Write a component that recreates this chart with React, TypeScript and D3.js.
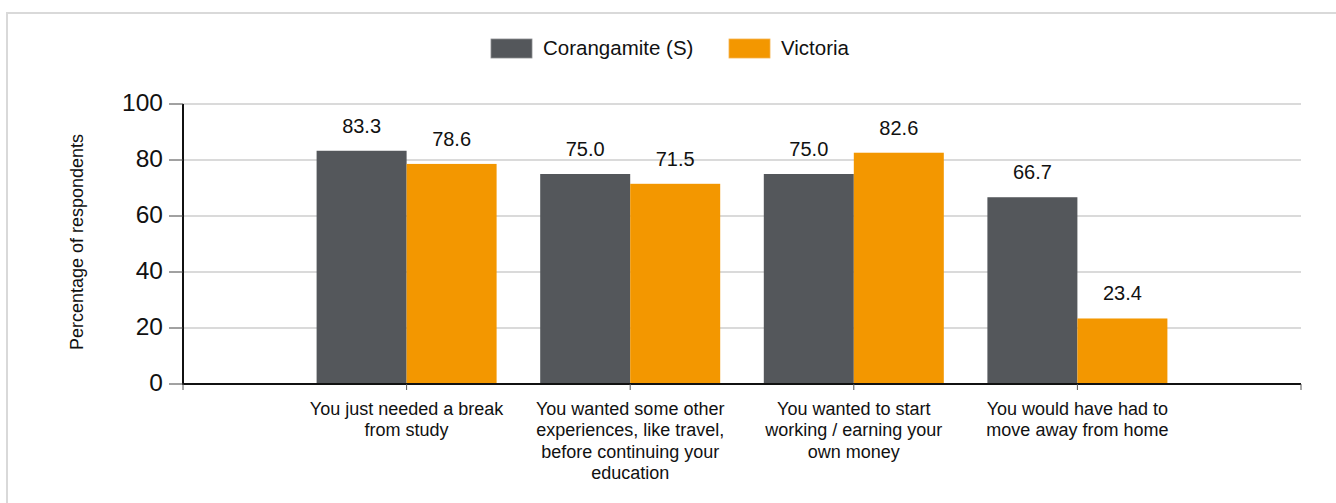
import React from "react";
import * as d3 from "d3";

const categories: string[][] = [
  ["You just needed a break", "from study"],
  ["You wanted some other", "experiences, like travel,", "before continuing your", "education"],
  ["You wanted to start", "working / earning your", "own money"],
  ["You would have had to", "move away from home"],
];
const seriesNames = ["Corangamite (S)", "Victoria"];
const corangamite = [83.3, 75.0, 75.0, 66.7];
const victoria = [78.6, 71.5, 82.6, 23.4];
const yTicks = [0, 20, 40, 60, 80, 100];
const colors = ["#54575b", "#f39700"];

export default function App() {
  const W = 1336, H = 503;
  const left = 183, right = 1301, top = 104, bottom = 384;
  const keys = categories.map((_, i) => String(i));
  const x = d3.scalePoint<string>().domain(keys).range([left, right]).padding(1);
  const sub = d3.scaleBand<string>().domain(seriesNames).range([-90, 90]).padding(0);
  const y = d3.scaleLinear().domain([0, 100]).range([bottom, top]);
  const data = [corangamite, victoria];
  const font = "Arial, 'Liberation Sans', sans-serif";

  return (
    <svg width={W} height={H} style={{ position: "absolute", left: 0, top: 0 }} fontFamily={font}>
      <rect x={0} y={0} width={W} height={H} fill="#fff" />
      <rect x={7} y={13} width={W + 20} height={H + 20} fill="none" stroke="#d9d9d9" strokeWidth={2} />
      {/* legend */}
      {seriesNames.map((s, i) => {
        const lx = [491, 729][i];
        return (
          <g key={s}>
            <rect x={lx} y={39} width={41} height={19} fill={colors[i]} stroke={i === 0 ? "#8a8c8f" : "#f6b24d"} strokeWidth={0.8} />
            <text x={lx + 52} y={55} fontSize={20.5} fill="#111">{s}</text>
          </g>
        );
      })}
      {/* gridlines */}
      {yTicks.filter(t => t > 0).map(t => (
        <line key={t} x1={left} x2={right} y1={y(t)} y2={y(t)} stroke="#dadada" strokeWidth={2} />
      ))}
      {/* bars */}
      {data.map((vals, si) =>
        vals.map((v, ci) => {
          const cx = x(String(ci))!;
          const bx = cx + sub(seriesNames[si])!;
          return (
            <g key={`${si}-${ci}`}>
              <rect x={bx} y={y(v)} width={sub.bandwidth()} height={bottom - y(v)} fill={colors[si]} />
              <text x={bx + sub.bandwidth() / 2} y={y(v) - 18} textAnchor="middle" fontSize={20} fill="#111">
                {v.toFixed(1)}
              </text>
            </g>
          );
        })
      )}
      {/* y axis */}
      <line x1={left} x2={left} y1={top} y2={bottom + 1} stroke="#111" strokeWidth={2} />
      {yTicks.map(t => (
        <g key={t}>
          <line x1={169} x2={left} y1={y(t)} y2={y(t)} stroke="#444" strokeWidth={1} />
          <text x={163} y={y(t)} dy="0.3em" textAnchor="end" fontSize={24.5} fill="#111">{t}</text>
        </g>
      ))}
      {/* x axis */}
      <line x1={left} x2={right} y1={bottom} y2={bottom} stroke="#111" strokeWidth={2} />
      {[left, ...keys.map(k => x(k)!), right].map((tx, i) => (
        <line key={i} x1={tx} x2={tx} y1={bottom} y2={bottom + 6} stroke="#555" strokeWidth={1} />
      ))}
      {categories.map((lines, ci) => (
        <text key={ci} x={x(String(ci))!} y={415} textAnchor="middle" fontSize={18} fill="#111">
          {lines.map((l, li) => (
            <tspan key={li} x={x(String(ci))!} y={415 + li * 21.3}>{l}</tspan>
          ))}
        </text>
      ))}
      <text transform={`translate(83,${(top + bottom) / 2 - 2}) rotate(-90)`} textAnchor="middle" fontSize={18} fill="#111">
        Percentage of respondents
      </text>
    </svg>
  );
}
